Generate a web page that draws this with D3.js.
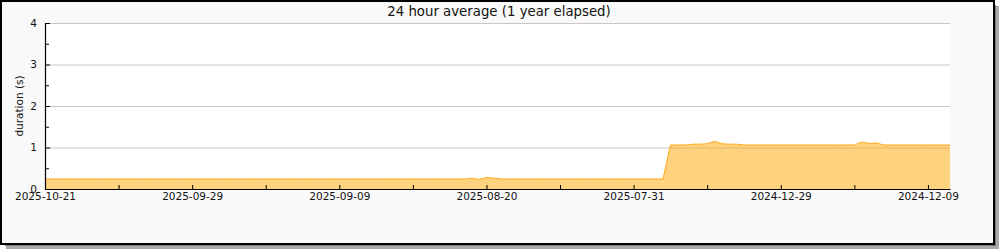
<!DOCTYPE html>
<html>
<head>
<meta charset="utf-8">
<script src="https://cdn.jsdelivr.net/npm/d3@7"></script>
<style>
  body { margin: 0; background: #fff; }
  svg { display: block; font-family: "DejaVu Sans", sans-serif; }
</style>
</head>
<body>
<script>
// one value per 24h sample, left to right as drawn
var durations = [
  0.24, 0.24, 0.24, 0.24, 0.24, 0.24, 0.24, 0.24, 0.24, 0.24,
  0.24, 0.24, 0.24, 0.24, 0.24, 0.24, 0.24, 0.24, 0.24, 0.24,
  0.24, 0.24, 0.24, 0.24, 0.24, 0.24, 0.24, 0.24, 0.24, 0.24,
  0.24, 0.24, 0.24, 0.24, 0.24, 0.24, 0.24, 0.24, 0.24, 0.24,
  0.24, 0.24, 0.24, 0.24, 0.24, 0.24, 0.24, 0.24, 0.24, 0.24,
  0.24, 0.24, 0.24, 0.24, 0.24, 0.24, 0.24, 0.24, 0.26, 0.23,
  0.28, 0.26, 0.24, 0.24, 0.24, 0.24, 0.24, 0.24, 0.24, 0.24,
  0.24, 0.24, 0.24, 0.24, 0.24, 0.24, 0.24, 0.24, 0.24, 0.24,
  0.24, 0.24, 0.24, 0.24, 0.24, 1.06, 1.06, 1.06, 1.08, 1.08,
  1.09, 1.15, 1.09, 1.08, 1.08, 1.06, 1.06, 1.06, 1.06, 1.06,
  1.06, 1.06, 1.06, 1.06, 1.06, 1.06, 1.06, 1.06, 1.06, 1.06,
  1.06, 1.13, 1.10, 1.11, 1.06, 1.06, 1.06, 1.06, 1.06, 1.06,
  1.06, 1.06, 1.06, 1.06
]
var tickIdx = [0, 10, 20, 30, 40, 50, 60, 70, 80, 90, 100, 110, 120]
var labelIdx = [0, 20, 40, 60, 80, 100, 120]
var dateLabels = ['2025-10-21', '2025-09-29', '2025-09-09', '2025-08-20', '2025-07-31', '2024-12-29', '2024-12-09']
var yTicks = [0, 1, 2, 3, 4]
var yMinor = [0.5, 1.5, 2.5, 3.5]
var title = '24 hour average (1 year elapsed)'
var yTitle = 'duration (s)'

;(function() {
  var width = 1000, height = 250
  var pLeft = 45, pRight = 950, pTop = 23, pBottom = 189

  var svg = d3.select('body').append('svg')
    .attr('width', width)
    .attr('height', height)

  // drop shadow + frame
  svg.append('rect').attr('x', 6).attr('y', 6).attr('width', 993).attr('height', 243).attr('fill', '#aaa')
  svg.append('rect').attr('x', 5).attr('y', 5).attr('width', 991).attr('height', 241).attr('fill', '#777')
  svg.append('rect')
    .attr('x', 1).attr('y', 1).attr('width', 993).attr('height', 243)
    .attr('fill', '#f9f9f9').attr('stroke', '#000').attr('stroke-width', 2)

  svg.append('rect')
    .attr('x', pLeft).attr('y', pTop).attr('width', pRight - pLeft).attr('height', pBottom - pTop)
    .attr('fill', '#fff')

  var x = d3.scaleLinear().domain([0, durations.length - 1]).range([pLeft, pRight])
  var y = d3.scaleLinear().domain([0, 4]).range([pBottom, pTop])

  // grid
  svg.append('g').selectAll('line')
    .data(yTicks.filter(d => d > 0))
    .enter().append('line')
    .attr('x1', pLeft).attr('x2', pRight)
    .attr('y1', d => y(d) + 0.5).attr('y2', d => y(d) + 0.5)
    .attr('stroke', '#c8c8c8')

  var area = d3.area()
    .x((d, i) => x(i))
    .y0(y(0))
    .y1(d => y(d))
  var line = d3.line()
    .x((d, i) => x(i))
    .y(d => y(d))

  svg.append('path')
    .attr('d', area(durations))
    .attr('fill', '#ffa500')
    .attr('fill-opacity', 0.5)
  svg.append('path')
    .attr('d', line(durations))
    .attr('fill', 'none')
    .attr('stroke', '#ffaa1a')
    .attr('stroke-width', 1)

  // axes
  var labelFor = function(d) {
    var k = labelIdx.indexOf(d)
    return k < 0 ? '' : dateLabels[k]
  }
  var xAxis = svg.append('g')
    .attr('transform', 'translate(0,' + pBottom + ')')
    .call(d3.axisBottom(x).tickValues(tickIdx).tickFormat(labelFor).tickSize(-4).tickSizeOuter(0).tickPadding(4))
  var yAxis = svg.append('g')
    .attr('transform', 'translate(' + pLeft + ',0)')
    .call(d3.axisLeft(y).tickValues(yTicks).tickFormat(d3.format('d')).tickSize(-5).tickSizeOuter(0).tickPadding(8))
  svg.append('g')
    .attr('transform', 'translate(' + pLeft + ',0)')
    .call(d3.axisLeft(y).tickValues(yMinor).tickFormat('').tickSize(-4).tickSizeOuter(0))
    .select('.domain').remove()

  svg.selectAll('.tick text')
    .attr('font-family', '"DejaVu Sans", sans-serif')
    .attr('font-size', 10.5)
    .attr('fill', '#111')
  xAxis.select('.domain').attr('stroke-width', 1.2)
  yAxis.select('.domain').attr('stroke-width', 1.2)

  svg.append('text')
    .attr('x', 499).attr('y', 16)
    .attr('text-anchor', 'middle')
    .attr('font-size', 13.3)
    .attr('fill', '#111')
    .text(title)

  svg.append('text')
    .attr('transform', 'translate(23,106) rotate(-90)')
    .attr('text-anchor', 'middle')
    .attr('font-size', 10.5)
    .attr('fill', '#111')
    .text(yTitle)
})()
</script>
</body>
</html>
